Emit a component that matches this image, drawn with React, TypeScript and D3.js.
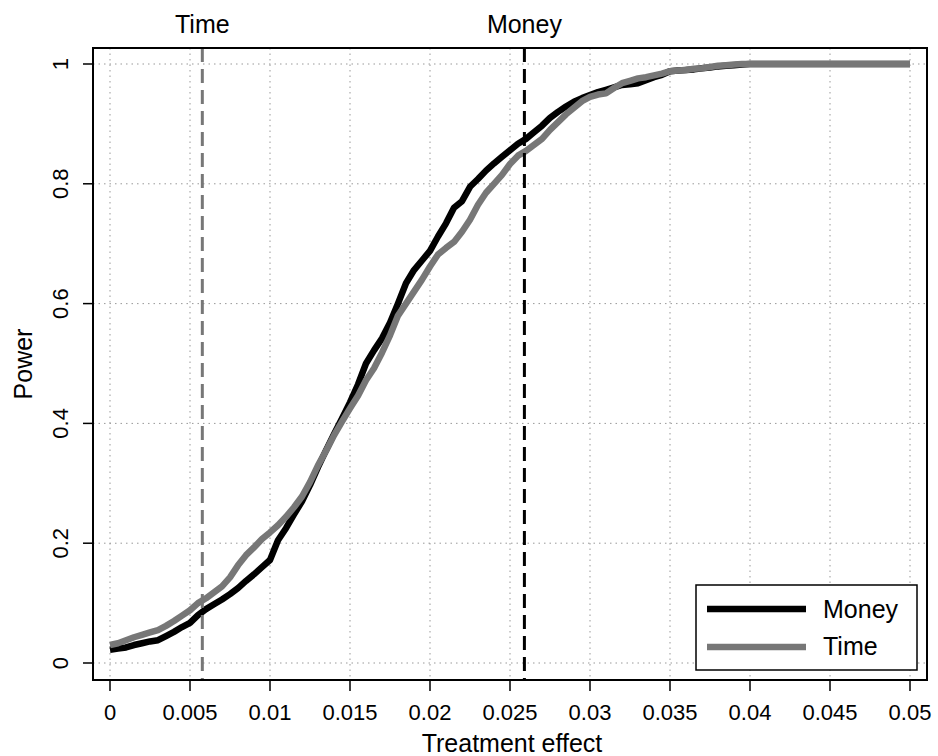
import React from "react";
import * as d3 from "d3";

const effects: number[] = [
  0, 0.0005, 0.001, 0.0015, 0.002, 0.0025, 0.003, 0.0035, 0.004, 0.0045,
  0.005, 0.0055, 0.006, 0.0065, 0.007, 0.0075, 0.008, 0.0085, 0.009, 0.0095,
  0.01, 0.0105, 0.011, 0.0115, 0.012, 0.0125, 0.013, 0.0135, 0.014, 0.0145,
  0.015, 0.0155, 0.016, 0.0165, 0.017, 0.0175, 0.018, 0.0185, 0.019, 0.0195,
  0.02, 0.0205, 0.021, 0.0215, 0.022, 0.0225, 0.023, 0.0235, 0.024, 0.0245,
  0.025, 0.0255, 0.026, 0.0265, 0.027, 0.0275, 0.028, 0.0285, 0.029, 0.0295,
  0.03, 0.0305, 0.031, 0.0315, 0.032, 0.0325, 0.033, 0.0335, 0.034, 0.0345,
  0.035, 0.0355, 0.036, 0.0365, 0.037, 0.0375, 0.038, 0.0385, 0.039, 0.0395,
  0.04, 0.045, 0.05,
];

const moneyPower: number[] = [
  0.022, 0.024, 0.026, 0.03, 0.033, 0.036, 0.038, 0.045, 0.052, 0.06,
  0.067, 0.08, 0.09, 0.098, 0.106, 0.115, 0.125, 0.137, 0.148, 0.16,
  0.172, 0.205, 0.225, 0.248, 0.27, 0.297, 0.327, 0.355, 0.382, 0.408,
  0.435, 0.465, 0.5, 0.522, 0.542, 0.568, 0.6, 0.634, 0.656, 0.672,
  0.688, 0.712, 0.734, 0.76, 0.771, 0.795, 0.808, 0.822, 0.834, 0.845,
  0.856, 0.867, 0.875, 0.886, 0.897, 0.91, 0.92, 0.929, 0.937, 0.943,
  0.948, 0.953, 0.957, 0.961, 0.965, 0.966, 0.968, 0.973, 0.978, 0.982,
  0.988, 0.989, 0.99, 0.991, 0.993, 0.994, 0.996, 0.997, 0.998, 0.999,
  1.0, 1.0, 1.0,
];

const timePower: number[] = [
  0.03, 0.033, 0.038, 0.043, 0.047, 0.051, 0.055, 0.062, 0.07, 0.079,
  0.088, 0.1, 0.108, 0.118, 0.128, 0.143, 0.163, 0.18, 0.193, 0.207,
  0.218, 0.23, 0.244, 0.26, 0.278, 0.302, 0.33, 0.354, 0.38, 0.403,
  0.425, 0.446, 0.472, 0.492, 0.518, 0.547, 0.58, 0.6, 0.62, 0.64,
  0.662, 0.682, 0.693, 0.703, 0.72, 0.74, 0.765, 0.785, 0.8, 0.815,
  0.833, 0.847, 0.855, 0.865, 0.875, 0.89, 0.903, 0.916, 0.927, 0.938,
  0.945, 0.949, 0.951, 0.96, 0.968, 0.972, 0.976, 0.978, 0.981, 0.984,
  0.988, 0.989, 0.99, 0.992, 0.993, 0.995, 0.997, 0.998, 0.999, 1.0,
  1.0, 1.0, 1.0,
];

const xTicks: number[] = [0, 0.005, 0.01, 0.015, 0.02, 0.025, 0.03, 0.035, 0.04, 0.045, 0.05];
const xTickLabels: string[] = ["0", "0.005", "0.01", "0.015", "0.02", "0.025", "0.03", "0.035", "0.04", "0.045", "0.05"];
const yTicks: number[] = [0, 0.2, 0.4, 0.6, 0.8, 1];
const yTickLabels: string[] = ["0", "0.2", "0.4", "0.6", "0.8", "1"];

const refLines = [
  { label: "Time", value: 0.00577, color: "#777777" },
  { label: "Money", value: 0.0259, color: "#000000" },
];

const seriesDefs = [
  { name: "Money", values: moneyPower, color: "#000000" },
  { name: "Time", values: timePower, color: "#777777" },
];

const FONT = "'Liberation Sans', Arial, Helvetica, sans-serif";

export default function App() {
  const W = 938, H = 756;
  const box = { left: 93, right: 927, top: 48, bottom: 680 };
  const x = d3.scaleLinear().domain([0, 0.05]).range([110, 910]);
  const y = d3.scaleLinear().domain([0, 1]).range([663, 64]);

  const line = d3
    .line<number>()
    .x((_, i) => x(effects[i]))
    .y((d) => y(d));

  const TICK_FS = 22;
  const TITLE_FS = 25;

  return (
    <svg
      width={W}
      height={H}
      style={{ position: "absolute", left: 0, top: 0, background: "#fff" }}
      fontFamily={FONT}
    >
      <rect x={0} y={0} width={W} height={H} fill="#fff" />
      {xTicks.map((t) => (
        <line
          key={"gx" + t}
          x1={x(t)}
          x2={x(t)}
          y1={box.top}
          y2={box.bottom}
          stroke="#999"
          strokeWidth={1}
          strokeDasharray="1.5,4"
        />
      ))}
      {yTicks.map((t) => (
        <line
          key={"gy" + t}
          x1={box.left}
          x2={box.right}
          y1={y(t)}
          y2={y(t)}
          stroke="#999"
          strokeWidth={1}
          strokeDasharray="1.5,4"
        />
      ))}
      {seriesDefs.map((s) => (
        <path
          key={s.name}
          d={line(s.values) || ""}
          fill="none"
          stroke={s.color}
          strokeWidth={6.5}
          strokeLinejoin="round"
          strokeLinecap="butt"
        />
      ))}
      {refLines.map((r) => (
        <g key={r.label}>
          <line
            x1={x(r.value)}
            x2={x(r.value)}
            y1={box.top}
            y2={box.bottom}
            stroke={r.color}
            strokeWidth={3}
            strokeDasharray="14,7"
          />
          <text x={x(r.value)} y={33} textAnchor="middle" fontSize={TITLE_FS} fill="#000">
            {r.label}
          </text>
        </g>
      ))}
      <rect
        x={box.left}
        y={box.top}
        width={box.right - box.left}
        height={box.bottom - box.top}
        fill="none"
        stroke="#000"
        strokeWidth={2}
      />
      {xTicks.map((t, i) => (
        <g key={"xt" + t}>
          <line x1={x(t)} x2={x(t)} y1={box.bottom} y2={box.bottom + 11} stroke="#000" strokeWidth={1.5} />
          <text x={x(t)} y={720} textAnchor="middle" fontSize={TICK_FS} fill="#000">
            {xTickLabels[i]}
          </text>
        </g>
      ))}
      <text x={(box.left + box.right) / 2 + 2} y={752} textAnchor="middle" fontSize={TITLE_FS} fill="#000">
        Treatment effect
      </text>
      {yTicks.map((t, i) => (
        <g key={"yt" + t}>
          <line x1={box.left - 10} x2={box.left} y1={y(t)} y2={y(t)} stroke="#000" strokeWidth={1.5} />
          <text
            transform={`translate(68, ${y(t)}) rotate(-90)`}
            textAnchor="middle"
            fontSize={TICK_FS}
            fill="#000"
          >
            {yTickLabels[i]}
          </text>
        </g>
      ))}
      <text
        transform={`translate(32, ${(box.top + box.bottom) / 2}) rotate(-90)`}
        textAnchor="middle"
        fontSize={TITLE_FS}
        fill="#000"
      >
        Power
      </text>
      <rect x={696} y={585} width={221} height={85} fill="#fff" stroke="#000" strokeWidth={1.5} />
      {seriesDefs.map((s, i) => (
        <g key={"lg" + s.name}>
          <line x1={707} x2={806} y1={609 + i * 38} y2={609 + i * 38} stroke={s.color} strokeWidth={6.5} />
          <text x={823} y={618 + i * 37} fontSize={TITLE_FS} fill="#000">
            {s.name}
          </text>
        </g>
      ))}
    </svg>
  );
}
